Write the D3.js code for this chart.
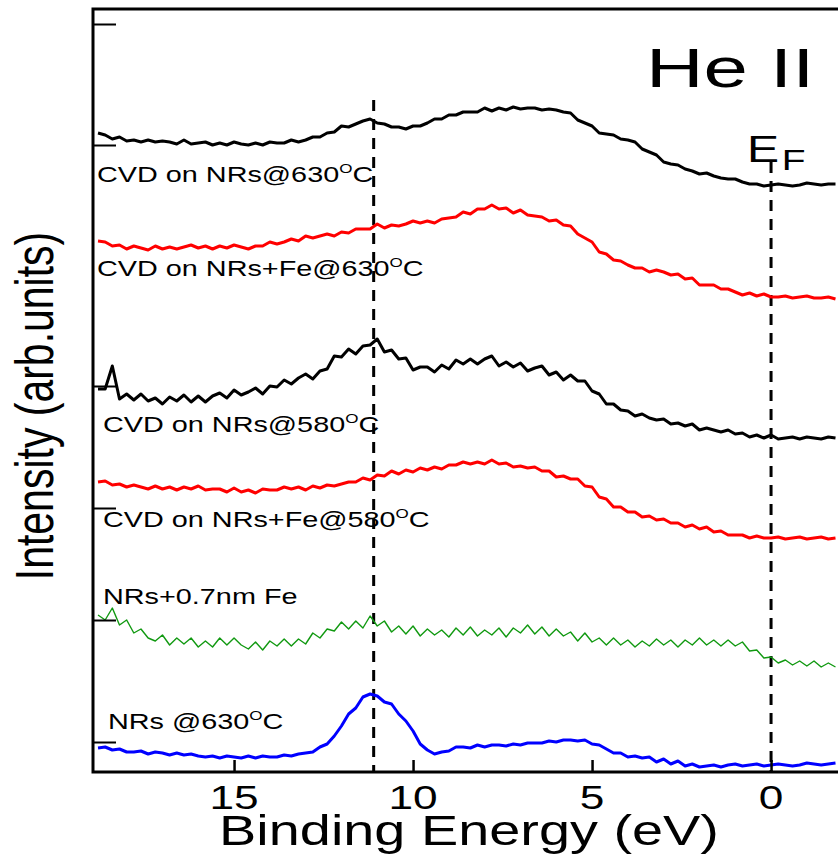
<!DOCTYPE html>
<html>
<head>
<meta charset="utf-8">
<script src="https://cdn.jsdelivr.net/npm/d3@7"></script>
<style>
  html, body { margin: 0; padding: 0; background: #fff; }
  svg { display: block; }
  text { font-family: "Liberation Sans", Arial, sans-serif; fill: #000; }
</style>
</head>
<body>
<svg id="chart" width="838" height="855"></svg>
<script>
// He II valence-band spectra, stacked with vertical offsets (arb. units).
// Sampling grid in binding energy (eV), 18.8 eV down to -1.8 eV.
const energies = d3.range(104).map(i => +(18.8 - 0.2 * i).toFixed(1));

const cvdNRs630 = [
  6.39,6.37,6.33,6.35,6.31,6.32,6.30,6.32,6.30,6.31,
  6.30,6.28,6.32,6.28,6.29,6.30,6.27,6.29,6.27,6.30,
  6.28,6.27,6.29,6.27,6.30,6.29,6.29,6.32,6.30,6.32,
  6.35,6.35,6.39,6.40,6.46,6.45,6.48,6.51,6.53,6.49,
  6.48,6.45,6.45,6.43,6.46,6.46,6.49,6.53,6.53,6.57,
  6.57,6.60,6.60,6.60,6.64,6.61,6.64,6.62,6.65,6.63,
  6.64,6.64,6.62,6.63,6.62,6.60,6.59,6.52,6.49,6.46,
  6.39,6.38,6.37,6.33,6.32,6.30,6.23,6.20,6.17,6.10,
  6.08,6.07,6.03,6.01,5.98,5.99,5.96,5.94,5.93,5.93,
  5.90,5.88,5.88,5.86,5.87,5.88,5.87,5.86,5.87,5.89,
  5.88,5.87,5.88,5.88
];

const cvdNRsFe630 = [
  5.31,5.30,5.26,5.27,5.23,5.26,5.24,5.22,5.26,5.23,
  5.25,5.23,5.25,5.27,5.24,5.26,5.23,5.26,5.24,5.27,
  5.25,5.23,5.26,5.26,5.30,5.28,5.30,5.33,5.31,5.36,
  5.34,5.36,5.38,5.36,5.40,5.39,5.43,5.43,5.43,5.48,
  5.44,5.47,5.46,5.48,5.51,5.49,5.51,5.49,5.53,5.54,
  5.55,5.60,5.58,5.63,5.63,5.67,5.63,5.64,5.59,5.62,
  5.57,5.56,5.55,5.51,5.52,5.47,5.46,5.38,5.34,5.30,
  5.20,5.18,5.12,5.11,5.07,5.04,5.04,5.00,5.02,5.00,
  4.97,4.98,4.93,4.94,4.87,4.87,4.87,4.83,4.83,4.80,
  4.77,4.79,4.76,4.78,4.75,4.75,4.76,4.74,4.75,4.76,
  4.74,4.74,4.75,4.73
];

const cvdNRs580 = [
  3.83,3.83,4.06,3.73,3.78,3.72,3.78,3.71,3.74,3.68,
  3.75,3.71,3.77,3.70,3.76,3.70,3.76,3.79,3.74,3.82,
  3.77,3.80,3.84,3.78,3.86,3.85,3.92,3.88,3.94,3.98,
  3.93,4.01,4.03,4.16,4.15,4.23,4.18,4.26,4.27,4.33,
  4.20,4.22,4.13,4.14,4.02,4.05,4.05,4.00,4.07,4.03,
  4.12,4.08,4.13,4.08,4.13,4.16,4.06,4.10,4.05,4.09,
  4.01,4.04,4.06,3.97,4.00,3.92,3.97,3.91,3.91,3.81,
  3.78,3.68,3.68,3.62,3.61,3.56,3.58,3.54,3.52,3.53,
  3.48,3.49,3.46,3.48,3.42,3.44,3.42,3.40,3.42,3.38,
  3.39,3.35,3.37,3.34,3.37,3.33,3.34,3.35,3.33,3.35,
  3.34,3.33,3.35,3.34
];

const cvdNRsFe580 = [
  2.90,2.91,2.87,2.88,2.85,2.87,2.85,2.83,2.86,2.83,
  2.85,2.82,2.85,2.83,2.86,2.82,2.83,2.83,2.80,2.84,
  2.80,2.82,2.79,2.83,2.82,2.82,2.85,2.83,2.85,2.82,
  2.86,2.84,2.87,2.86,2.88,2.90,2.90,2.94,2.92,2.97,
  2.96,3.01,2.98,3.02,3.00,3.04,3.02,3.05,3.03,3.07,
  3.07,3.10,3.08,3.10,3.08,3.12,3.08,3.09,3.05,3.06,
  3.04,3.05,3.01,3.01,2.95,2.96,2.93,2.93,2.86,2.85,
  2.75,2.73,2.65,2.65,2.60,2.60,2.55,2.56,2.52,2.53,
  2.49,2.49,2.45,2.47,2.43,2.45,2.40,2.41,2.37,2.37,
  2.37,2.34,2.36,2.34,2.34,2.35,2.33,2.34,2.35,2.33,
  2.34,2.35,2.33,2.34
];

const nrsFe07 = [
  1.57,1.52,1.64,1.47,1.52,1.39,1.43,1.34,1.31,1.37,
  1.27,1.34,1.28,1.34,1.25,1.31,1.25,1.34,1.27,1.34,
  1.27,1.23,1.30,1.22,1.31,1.26,1.33,1.26,1.33,1.28,
  1.39,1.34,1.43,1.41,1.50,1.43,1.51,1.44,1.56,1.46,
  1.51,1.40,1.46,1.38,1.46,1.36,1.43,1.37,1.42,1.35,
  1.44,1.37,1.45,1.36,1.42,1.37,1.44,1.35,1.44,1.39,
  1.47,1.38,1.45,1.36,1.43,1.36,1.40,1.31,1.39,1.30,
  1.34,1.27,1.34,1.27,1.32,1.25,1.31,1.26,1.33,1.27,
  1.32,1.25,1.32,1.27,1.34,1.27,1.32,1.26,1.32,1.26,
  1.30,1.21,1.22,1.14,1.15,1.09,1.12,1.07,1.11,1.06,
  1.11,1.05,1.09,1.05
];

const nrs630 = [
  0.24,0.25,0.22,0.23,0.20,0.20,0.21,0.18,0.20,0.19,
  0.17,0.19,0.17,0.18,0.16,0.15,0.16,0.14,0.16,0.15,
  0.14,0.16,0.14,0.16,0.15,0.15,0.17,0.16,0.18,0.19,
  0.20,0.25,0.28,0.36,0.46,0.58,0.64,0.75,0.78,0.76,
  0.70,0.68,0.58,0.51,0.41,0.28,0.22,0.18,0.20,0.21,
  0.25,0.25,0.24,0.27,0.25,0.27,0.27,0.26,0.28,0.27,
  0.29,0.29,0.29,0.31,0.30,0.32,0.32,0.31,0.32,0.28,
  0.27,0.23,0.19,0.19,0.15,0.16,0.14,0.15,0.10,0.13,
  0.08,0.11,0.06,0.08,0.05,0.06,0.07,0.05,0.07,0.08,
  0.06,0.07,0.08,0.06,0.07,0.08,0.07,0.06,0.07,0.09,
  0.08,0.07,0.08,0.09
];

const seriesValues = [cvdNRs630, cvdNRsFe630, cvdNRs580, cvdNRsFe580, nrsFe07, nrs630];
const seriesColors = ["#000000", "#ff0000", "#000000", "#ff0000", "#119911", "#0000ff"];
const seriesWidths = [3, 3, 3, 3, 1.4, 3];

// Labels next to each spectrum: [text, superscript, tail]
const seriesLabels = [
  ["CVD on NRs@630", "O", "C"],
  ["CVD on NRs+Fe@630", "O", "C"],
  ["CVD on NRs@580", "O", "C"],
  ["CVD on NRs+Fe@580", "O", "C"],
  ["NRs+0.7nm Fe", "", ""],
  ["NRs @630", "O", "C"]
];

const xTicks = [15, 10, 5, 0];
const yTicks = [0.30, 1.52, 2.64, 3.86, 6.27, 7.48];
const referenceEnergies = [11.1, 0];   // dashed guide lines (eV)
const xDomain = [18.94, -1.87];
const yDomain = [0, 7.63];

// ---- layout ----
const svg = d3.select("#chart");
const plotLeft = 93, plotRight = 838, plotTop = 9, plotBottom = 772;
const stretch = 1.3;   // wide letterforms used throughout the figure

const x = d3.scaleLinear().domain(xDomain).range([plotLeft, plotRight]);
const y = d3.scaleLinear().domain(yDomain).range([plotBottom, plotTop]);

svg.append("rect").attr("width", 838).attr("height", 855).attr("fill", "#fff");

// dashed guide lines
const guideTop = [100, 162];
referenceEnergies.forEach((e, i) => {
  svg.append("line")
    .attr("x1", x(e)).attr("x2", x(e))
    .attr("y1", guideTop[i]).attr("y2", plotBottom)
    .attr("stroke", "#000").attr("stroke-width", 3)
    .attr("stroke-dasharray", "11,8");
});

// spectra
const line = d3.line()
  .x((d, i) => x(energies[i]))
  .y(d => y(d));

seriesValues.forEach((vals, k) => {
  svg.append("path")
    .datum(vals)
    .attr("fill", "none")
    .attr("stroke", seriesColors[k])
    .attr("stroke-width", seriesWidths[k])
    .attr("stroke-linejoin", "round")
    .attr("d", line);
});

// axes: bottom and left with inward ticks, plus top frame line
const xAxis = d3.axisBottom(x).tickValues(xTicks).tickSize(0).tickFormat("");
const gx = svg.append("g").attr("transform", `translate(0,${plotBottom})`).call(xAxis);
gx.select(".domain").remove();
gx.selectAll(".tick").append("line")
  .attr("y1", 0).attr("y2", -12).attr("stroke", "#000").attr("stroke-width", 2.5);

const yAxis = d3.axisLeft(y).tickValues(yTicks).tickSize(0).tickFormat("");
const gy = svg.append("g").attr("transform", `translate(${plotLeft},0)`).call(yAxis);
gy.select(".domain").remove();
gy.selectAll(".tick").append("line")
  .attr("x1", 0).attr("x2", 23).attr("stroke", "#000").attr("stroke-width", 2);

svg.append("path")
  .attr("d", `M${plotRight},${plotTop}H${plotLeft}V${plotBottom}H${plotRight}`)
  .attr("fill", "none").attr("stroke", "#000").attr("stroke-width", 3);

// tick labels
xTicks.forEach(t => {
  svg.append("text")
    .attr("transform", `translate(${x(t)},809) scale(${stretch},1)`)
    .attr("text-anchor", "middle")
    .attr("font-size", 34)
    .text(t);
});

// axis titles
svg.append("text")
  .attr("transform", `translate(469,845) scale(1.33,1)`)
  .attr("text-anchor", "middle")
  .attr("font-size", 42)
  .text("Binding Energy (eV)");

svg.append("text")
  .attr("transform", `translate(53,406) scale(${stretch},1) rotate(-90)`)
  .attr("text-anchor", "middle")
  .attr("font-size", 41)
  .text("Intensity (arb.units)");

// title
svg.append("text")
  .attr("transform", `translate(646,87) scale(1.45,1)`)
  .attr("font-size", 55)
  .text("He II");

// Fermi level label
const ef = svg.append("text")
  .attr("transform", `translate(747,162) scale(${stretch},1)`)
  .attr("font-size", 37);
ef.append("tspan").text("E");
ef.append("tspan").attr("font-size", 30).attr("dy", 8).attr("dx", 2).text("F");

// spectrum labels
const labelPos = [[97, 182], [97, 276], [103, 432], [103, 527], [103, 604], [108, 729]];
seriesLabels.forEach((parts, k) => {
  const t = svg.append("text")
    .attr("transform", `translate(${labelPos[k][0]},${labelPos[k][1]}) scale(1.31,1)`)
    .attr("font-size", 22);
  t.append("tspan").text(parts[0]);
  if (parts[1]) {
    t.append("tspan").attr("font-size", 13).attr("dy", -9).text(parts[1]);
    t.append("tspan").attr("dy", 9).text(parts[2]);
  }
});
</script>
</body>
</html>
